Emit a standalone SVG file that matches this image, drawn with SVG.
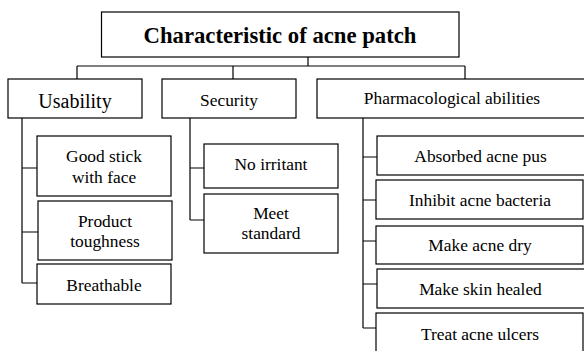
<svg xmlns="http://www.w3.org/2000/svg" width="584" height="351" viewBox="0 0 584 351">
<style>
rect{fill:#fff;stroke:#000;stroke-width:1.2}
#connectors path{fill:none;stroke:#000;stroke-width:1.2}
</style>
<g id="connectors">
<path d="M308 57V66M77 66H465M77 66V79M233 66V79M465 66V79"/>
<path d="M22 118V283M22 168H37M22 232H38M22 283H37"/>
<path d="M190 118V220M190 168H204M190 220H204"/>
<path d="M363 118V328M363 157H377M363 200H376M363 241H376M363 284H377M363 328H376"/>
</g>
<g id="title"><rect x="101.5" y="12" width="357.5" height="45"/><text x="280" y="43" font-family="Liberation Serif, Times New Roman, serif" font-size="22.7" font-weight="bold" text-anchor="middle">Characteristic of acne patch</text></g>
<g id="usability"><rect x="8" y="79" width="134" height="39"/><text x="75" y="107.5" font-family="Liberation Serif, Times New Roman, serif" font-size="20" text-anchor="middle">Usability</text></g>
<g id="security"><rect x="162" y="79" width="134" height="39"/><text x="229" y="105.5" font-family="Liberation Serif, Times New Roman, serif" font-size="17.4" text-anchor="middle">Security</text></g>
<g id="pharma"><rect x="317" y="79" width="280" height="39"/><text x="452" y="104" font-family="Liberation Serif, Times New Roman, serif" font-size="17.4" text-anchor="middle">Pharmacological abilities</text></g>
<g id="good-stick"><rect x="37" y="136" width="134" height="60"/><text x="104" y="162.3" font-family="Liberation Serif, Times New Roman, serif" font-size="17.4" text-anchor="middle">Good stick</text><text x="104" y="182.7" font-family="Liberation Serif, Times New Roman, serif" font-size="17.4" text-anchor="middle">with face</text></g>
<g id="toughness"><rect x="38" y="201" width="134" height="59"/><text x="105" y="226.7" font-family="Liberation Serif, Times New Roman, serif" font-size="17.4" text-anchor="middle">Product</text><text x="105" y="246.7" font-family="Liberation Serif, Times New Roman, serif" font-size="17.4" text-anchor="middle">toughness</text></g>
<g id="breathable"><rect x="37" y="264" width="134" height="40"/><text x="104" y="290.7" font-family="Liberation Serif, Times New Roman, serif" font-size="17.4" text-anchor="middle">Breathable</text></g>
<g id="no-irritant"><rect x="204" y="144" width="134" height="44"/><text x="271" y="170" font-family="Liberation Serif, Times New Roman, serif" font-size="17.4" text-anchor="middle">No irritant</text></g>
<g id="meet-standard"><rect x="204" y="194" width="134" height="59"/><text x="271" y="219.3" font-family="Liberation Serif, Times New Roman, serif" font-size="17.4" text-anchor="middle">Meet</text><text x="271" y="239.3" font-family="Liberation Serif, Times New Roman, serif" font-size="17.4" text-anchor="middle">standard</text></g>
<g id="absorbed"><rect x="377" y="136" width="215" height="39"/><text x="480.5" y="161.7" font-family="Liberation Serif, Times New Roman, serif" font-size="17.4" text-anchor="middle">Absorbed acne pus</text></g>
<g id="inhibit"><rect x="376" y="180" width="207" height="39"/><text x="480" y="206" font-family="Liberation Serif, Times New Roman, serif" font-size="17.4" text-anchor="middle">Inhibit acne bacteria</text></g>
<g id="dry"><rect x="376" y="226" width="207" height="38"/><text x="480" y="250.7" font-family="Liberation Serif, Times New Roman, serif" font-size="17.4" text-anchor="middle">Make acne dry</text></g>
<g id="healed"><rect x="377" y="269" width="215" height="39"/><text x="480.5" y="295" font-family="Liberation Serif, Times New Roman, serif" font-size="17.4" text-anchor="middle">Make skin healed</text></g>
<g id="ulcers"><rect x="376" y="313" width="207" height="50"/><text x="480" y="340" font-family="Liberation Serif, Times New Roman, serif" font-size="17.4" text-anchor="middle">Treat acne ulcers</text></g>
</svg>
